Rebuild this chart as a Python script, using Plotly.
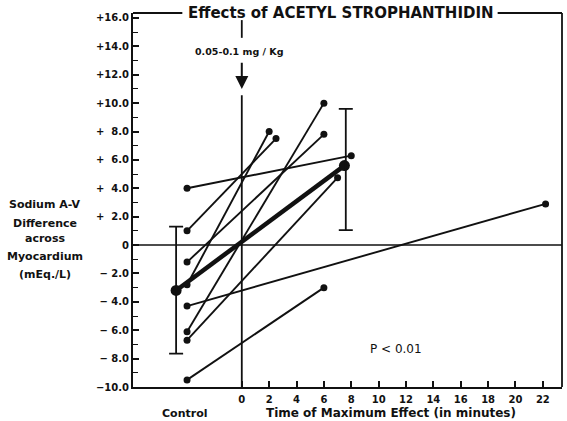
import plotly.graph_objects as go

# ---- data ----
control_x = -4.0
control_values = [4.0, 1.0, -1.2, -2.8, -4.3, -6.1, -6.7, -9.5]
effect_times = [8.0, 2.5, 6.0, 2.0, 22.2, 6.0, 7.0, 6.0]
effect_values = [6.3, 7.5, 7.8, 8.0, 2.9, 10.0, 4.75, -3.0]

mean_control_x = -4.8
mean_control = -3.2
mean_control_err_plus = 4.5
mean_control_err_minus = 4.45
mean_effect_time = 7.5
mean_effect = 5.6
mean_effect_err_plus = 4.0
mean_effect_err_minus = 4.55

y_tickvals = [16, 14, 12, 10, 8, 6, 4, 2, 0, -2, -4, -6, -8, -10]
y_ticktext = ["+16.0", "+14.0", "+12.0", "+10.0", "+  8.0", "+  6.0", "+  4.0",
              "+  2.0", "0", "\u2212 2.0", "\u2212 4.0", "\u2212 6.0", "\u2212 8.0", "\u221210.0"]
x_tickvals = [0, 2, 4, 6, 8, 10, 12, 14, 16, 18, 20, 22]
x_ticktext = [str(v) for v in x_tickvals]
y_title_lines = ["Sodium A-V", "Difference", "across", "Myocardium", "(mEq./L)"]

FONT = "DejaVu Sans"
INK = "#111111"

fig = go.Figure()

# individual animals
xs, ys = [], []
for cv, et, ev in zip(control_values, effect_times, effect_values):
    xs += [control_x, et, None]
    ys += [cv, ev, None]
fig.add_trace(go.Scatter(x=xs, y=ys, mode="lines+markers",
                         line=dict(color=INK, width=1.9),
                         marker=dict(color=INK, size=7),
                         hoverinfo="skip", showlegend=False))

# mean line
fig.add_trace(go.Scatter(x=[mean_control_x, mean_effect_time], y=[mean_control, mean_effect],
                         mode="lines+markers",
                         line=dict(color=INK, width=4.5),
                         marker=dict(color=INK, size=11),
                         showlegend=False, hoverinfo="skip"))
# error bars
fig.add_trace(go.Scatter(x=[mean_control_x, mean_effect_time + 0.1], y=[mean_control, mean_effect],
                         mode="markers", marker=dict(size=1, color="rgba(0,0,0,0)"),
                         error_y=dict(type="data", symmetric=False,
                                      array=[mean_control_err_plus, mean_effect_err_plus],
                                      arrayminus=[mean_control_err_minus, mean_effect_err_minus],
                                      color=INK, thickness=1.8, width=7),
                         showlegend=False, hoverinfo="skip"))

shapes = []
# zero line
shapes.append(dict(type="line", xref="paper", yref="y", x0=0, x1=1, y0=0, y1=0,
                   line=dict(color=INK, width=1.6), layer="below"))
# vertical line at time 0 (lower part)
shapes.append(dict(type="line", xref="x", yref="y", x0=0, x1=0, y0=-10, y1=10.55,
                   line=dict(color=INK, width=1.8), layer="below"))
# vertical line at time 0 (upper part, under title)
shapes.append(dict(type="line", xref="x", yref="y", x0=0, x1=0, y0=14.6, y1=15.85,
                   line=dict(color=INK, width=1.8)))
# top frame segments and right frame
shapes.append(dict(type="line", xref="paper", yref="paper", x0=0, x1=0.115, y0=1, y1=1,
                   line=dict(color=INK, width=1.8)))
shapes.append(dict(type="line", xref="paper", yref="paper", x0=0.85, x1=1, y0=1, y1=1,
                   line=dict(color=INK, width=1.8)))
shapes.append(dict(type="line", xref="paper", yref="paper", x0=1, x1=1, y0=0, y1=1,
                   line=dict(color=INK, width=1.8)))

annotations = [
    dict(text="Effects of ACETYL STROPHANTHIDIN", xref="paper", yref="paper",
         x=0.485, y=1.0, xanchor="center", yanchor="middle", showarrow=False,
         font=dict(family=FONT, size=15, color=INK, weight="bold")),
    dict(text="0.05-0.1 mg / Kg", xref="x", yref="y", x=-0.2, y=13.65,
         xanchor="center", yanchor="middle", showarrow=False,
         font=dict(family=FONT, size=9.5, color=INK, weight="bold")),
    dict(text="", xref="x", yref="y", x=0, y=11.0, axref="x", ayref="y", ax=0, ay=12.95,
         showarrow=True, arrowhead=2, arrowsize=1.3, arrowwidth=2, arrowcolor=INK),
    dict(text="P < 0.01", xref="x", yref="y", x=11.3, y=-7.35,
         xanchor="center", yanchor="middle", showarrow=False,
         font=dict(family=FONT, size=12, color=INK)),
    dict(text="Control", xref="x", yref="paper", x=-4.2, y=-0.07,
         xanchor="center", yanchor="middle", showarrow=False,
         font=dict(family=FONT, size=11, color=INK, weight="bold")),
    dict(text="Time of Maximum Effect (in minutes)", xref="x", yref="paper", x=10.9, y=-0.07,
         xanchor="center", yanchor="middle", showarrow=False,
         font=dict(family=FONT, size=12, color=INK, weight="bold")),
]
for line_text, py in zip(y_title_lines, [0.487, 0.4385, 0.396, 0.350, 0.302]):
    annotations.append(dict(text=line_text, xref="paper", yref="paper", x=-0.205, y=py,
                            xanchor="center", yanchor="middle", showarrow=False,
                            font=dict(family=FONT, size=11, color=INK, weight="bold")))

fig.update_layout(
    width=567, height=421,
    margin=dict(l=133, r=5, t=13, b=34),
    paper_bgcolor="white", plot_bgcolor="white",
    shapes=shapes, annotations=annotations,
    showlegend=False, hovermode=False,
    xaxis=dict(range=[-7.95, 23.4], showgrid=False, zeroline=False,
               showline=True, linecolor=INK, linewidth=2,
               tickvals=x_tickvals, ticktext=x_ticktext,
               ticks="inside", ticklen=6, tickwidth=1.6, tickcolor=INK,
               ticklabelstandoff=2,
               tickfont=dict(family=FONT, size=10, color=INK, weight="bold")),
    yaxis=dict(range=[-10, 16.35], showgrid=False, zeroline=False,
               showline=True, linecolor=INK, linewidth=2,
               tickvals=y_tickvals, ticktext=y_ticktext,
               ticks="inside", ticklen=6, tickwidth=1.6, tickcolor=INK,
               minor=dict(ticks="inside", dtick=1, ticklen=5, tickwidth=1.4, tickcolor=INK, showgrid=False),
               tickfont=dict(family=FONT, size=10, color=INK, weight="bold")),
)

# remove the browser's default 8px body margin so the figure fills the window exactly
fig.write_html("out.html", config={"displayModeBar": False},
               post_script="document.body.style.margin='0px';")
